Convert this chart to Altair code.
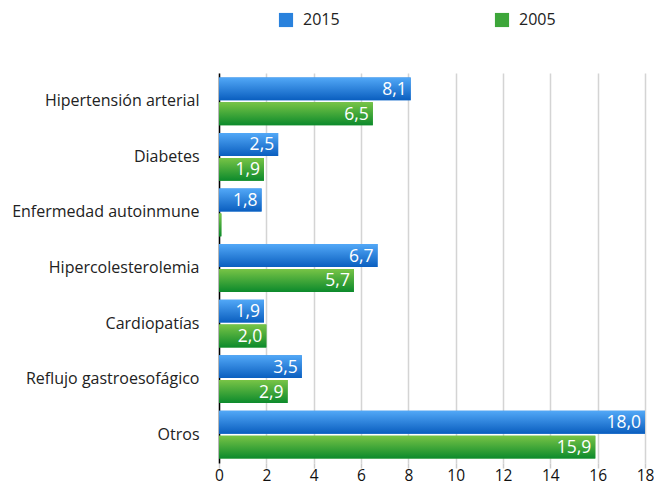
import altair as alt
import pandas as pd

categories = ["Hipertensión arterial", "Diabetes", "Enfermedad autoinmune",
              "Hipercolesterolemia", "Cardiopatías", "Reflujo gastroesofágico", "Otros"]
years = ["2015", "2005"]
values_2015 = [8.1, 2.5, 1.8, 6.7, 1.9, 3.5, 18.0]
values_2005 = [6.5, 1.9, 0.1, 5.7, 2.0, 2.9, 15.9]
labels_2015 = ["8,1", "2,5", "1,8", "6,7", "1,9", "3,5", "18,0"]
labels_2005 = ["6,5", "1,9", "", "5,7", "2,0", "2,9", "15,9"]

rows = []
for c, v, l in zip(categories, values_2015, labels_2015):
    rows.append({"cat": c, "year": "2015", "value": v, "label": l})
for c, v, l in zip(categories, values_2005, labels_2005):
    rows.append({"cat": c, "year": "2005", "value": v, "label": l})
df = pd.DataFrame(rows)

FONT = "Open Sans"

blue_grad = alt.LinearGradient(
    gradient="linear", x1=0, y1=0, x2=0, y2=1,
    stops=[alt.GradientStop(color="#52a8f7", offset=0),
           alt.GradientStop(color="#0a5ebf", offset=1)])
green_grad = alt.LinearGradient(
    gradient="linear", x1=0, y1=0, x2=0, y2=1,
    stops=[alt.GradientStop(color="#78c446", offset=0),
           alt.GradientStop(color="#0c8a2c", offset=1)])

y_enc = alt.Y("cat:N", sort=categories, title=None,
              scale=alt.Scale(paddingInner=0.14, paddingOuter=0.08),
              axis=alt.Axis(ticks=False, domainColor="#000000", domainWidth=1.5,
                            labelFont=FONT, labelFontSize=16, labelColor="#222222",
                            labelPadding=20, minExtent=211, maxExtent=211,
                            labelLimit=300))
x_enc = alt.X("value:Q", title=None,
              scale=alt.Scale(domain=[0, 18], nice=False),
              axis=alt.Axis(values=list(range(0, 19, 2)), domain=False,
                            tickColor="#cccccc", tickSize=5, tickWidth=1.5,
                            gridColor="#d4d4d4", gridWidth=1.5,
                            labelFont=FONT, labelFontSize=15.5, labelColor="#111111",
                            labelPadding=0, labelFlush=False))
yoff = alt.YOffset("year:N", sort=years, scale=alt.Scale(paddingInner=0.08))

base = alt.Chart(df)

legend_bars = base.mark_bar().encode(
    x=x_enc, y=y_enc, yOffset=yoff,
    color=alt.Color("year:N", sort=years, title=None,
                    scale=alt.Scale(domain=years, range=["#2a82dd", "#3da63a"]),
                    legend=alt.Legend(orient="none", legendX=59, legendY=-61,
                                      direction="horizontal", symbolType="square",
                                      symbolSize=200, symbolStrokeWidth=0,
                                      labelFont=FONT, labelFontSize=16,
                                      labelColor="#222222", columnPadding=154,
                                      labelOffset=9))
)

blue = base.mark_bar(fill=blue_grad).encode(
    x=x_enc, y=y_enc, yOffset=yoff
).transform_filter(alt.datum.year == "2015")

green = base.mark_bar(fill=green_grad).encode(
    x=x_enc, y=y_enc, yOffset=yoff
).transform_filter(alt.datum.year == "2005")

text = base.mark_text(align="right", baseline="middle", dx=-4, dy=1,
                      color="white", font=FONT, fontSize=17.5).encode(
    x=x_enc, y=y_enc, yOffset=yoff, text="label:N"
)

chart = alt.layer(legend_bars, blue, green, text).properties(
    width=426, height=390,
    padding={"left": 0, "top": 4, "right": 0, "bottom": 0}
).configure_view(stroke=None)

chart.save("out.html", embed_options={"renderer": "svg", "actions": False})
